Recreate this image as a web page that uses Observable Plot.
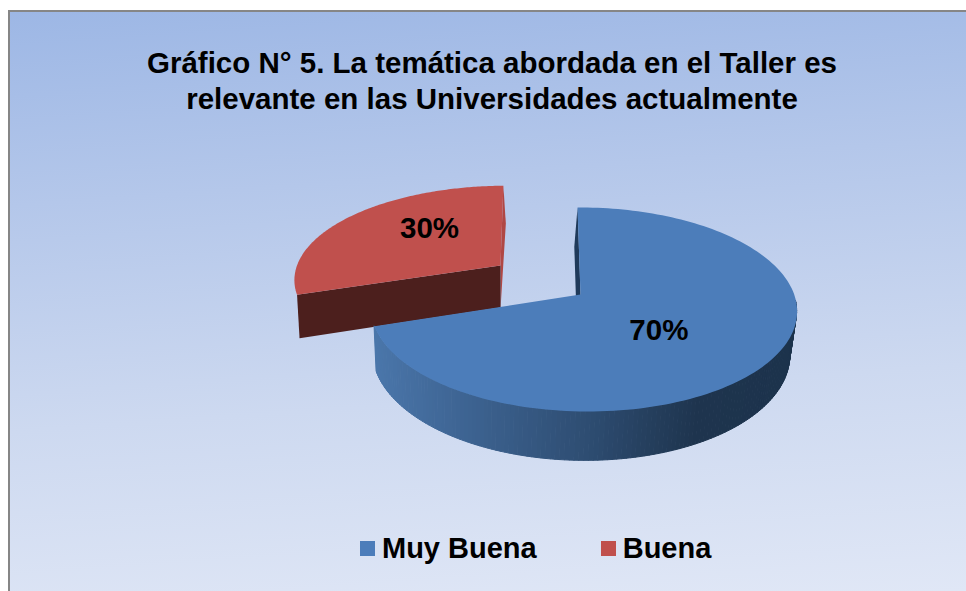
<!DOCTYPE html>
<html lang="es">
<head>
<meta charset="utf-8">
<script src="https://cdn.jsdelivr.net/npm/d3@7"></script>
<script src="https://cdn.jsdelivr.net/npm/@observablehq/plot@0.6"></script>
<style>
html,body{margin:0;padding:0;background:#fff;width:966px;height:591px;overflow:hidden}
#frame{position:absolute;left:8px;top:10px;width:958px;height:581px;box-sizing:border-box;border-left:2px solid #868686;border-top:2px solid #868686;
background:linear-gradient(176deg,#9db7e5 0%,#b4c7ea 30%,#cdd9f0 65%,#e0e7f6 100%);font-family:"Liberation Sans",Arial,sans-serif;color:#000}
#title{height:113px;box-sizing:border-box;padding-top:33px;padding-left:8px;text-align:center;font-weight:bold;font-size:29.5px;line-height:36px}
#chart svg{display:block;background:transparent}
#legend{position:absolute;left:350px;top:518px;display:flex;align-items:center;font-weight:bold;font-size:29px;line-height:36px}
#legend i{display:inline-block;width:15px;height:15px;margin-right:7px}
#legend span{display:flex;align-items:center;margin-right:64px}
</style>
</head>
<body>
<div id="frame">
<div id="title">Gráfico N° 5. La temática abordada en el Taller es<br>relevante en las Universidades actualmente</div>
<div id="chart"></div>
<div id="legend"></div>
</div>
<script>
const categories = ["Muy Buena", "Buena"];
const shares = [70, 30];
const labels = ["70%", "30%"];
const topColors = ["#4c7dba", "#c0504d"];

// pie angles come from the values; clockwise from twelve o'clock
const arcs = d3.pie().sort(null)(shares);

// perspective view of the tilted disc
const view = {cx: 580, cy: 294, B: 210.7, C: -3.4, A: 99.8, k: 0.147, m: -0.014};
function project(u, v, base, shiftX) {
  const den = 1 + view.k * v + view.m * u;
  const s = base ? 0.979 : 1, a = base ? 1.05 : 1;
  const cx = view.cx + (base ? shiftX : 0), cy = base ? 337.5 : view.cy;
  return {x: cx + s * (view.B * u + view.C * v) / den, y: cy - a * view.A * v / den};
}
function rimPoint(arc, t, e, base, shiftX) {
  const mid = (arc.startAngle + arc.endAngle) / 2;
  return project(e * Math.sin(mid) + Math.sin(t), e * Math.cos(mid) + Math.cos(t), base, shiftX);
}
function apex(arc, e, base, shiftX) {
  const mid = (arc.startAngle + arc.endAngle) / 2;
  return project(e * Math.sin(mid), e * Math.cos(mid), base, shiftX);
}
const steps = (a, b, n) => d3.range(n + 1).map(i => a + (b - a) * i / n);

const blue = arcs[0], red = arcs[1];
const eRed = 0.52, shiftBlue = -2.3, shiftRed = -1.7;

// the pulled-out slice is seen slightly wider and leaning compared with the disc
const redAp = apex(red, eRed);
const redApexBase = apex(red, eRed, true, shiftRed);
const widenAt = (ref, w, lean) => p => ({x: 500 + (p.x - redAp.x) * w + (p.y - ref) * lean, y: p.y});
const widen = widenAt(redAp.y, 1.035, 0.063), widenBase = widenAt(redApexBase.y, 1.04, 0.03);

const topFace = (arc, e) => [apex(arc, e), ...steps(arc.startAngle, arc.endAngle, 160).map(t => rimPoint(arc, t, e))];
const blueTop = topFace(blue, 0), redTop = topFace(red, eRed).map(widen);

// cut faces
const cutFace = (a, b) => [widen(a[0]), widen(a[1]), widenBase(b[1]), widenBase(b[0])];
const redCutLeft = cutFace([redAp, rimPoint(red, red.startAngle, eRed)], [redApexBase, rimPoint(red, red.startAngle, eRed, true, shiftRed)]);
const redCutRight = cutFace([redAp, rimPoint(red, red.endAngle, eRed)], [redApexBase, rimPoint(red, red.endAngle, eRed, true, shiftRed)]);
const blueCut = [apex(blue, 0), rimPoint(blue, blue.startAngle, 0), rimPoint(blue, blue.startAngle, 0, true, shiftBlue - 1), apex(blue, 0, true, shiftBlue - 1)];

// outer wall of the large slice, shaded from left to right
const shade = d3.scaleLinear().domain([375, 470, 590, 700, 797]).range(["#4a76aa", "#3d6391", "#2e4d72", "#1e344e", "#1c334c"]);
const wallAngles = steps(Math.PI * 0.52, blue.endAngle, 140);
const wall = [];
wallAngles.slice(0, -1).forEach((t, i) => {
  const next = wallAngles[i + 1];
  const fill = shade(rimPoint(blue, t, 0).x);
  [t, next].forEach(a => {
    const p = rimPoint(blue, a, 0), q = rimPoint(blue, a, 0, true, shiftBlue);
    wall.push({x1: p.x, y1: p.y, x2: q.x, y2: q.y, seg: i, fill});
  });
});

const blueLabel = rimPoint(blue, (blue.startAngle + blue.endAngle) / 2, 0);
const blueAnchor = apex(blue, 0);
const redAnchor = widen(redAp), redRim = widen(rimPoint(red, (red.startAngle + red.endAngle) / 2, eRed));
const labelData = [
  {x: blueAnchor.x + (blueLabel.x - blueAnchor.x) * 0.41, y: blueAnchor.y + (blueLabel.y - blueAnchor.y) * 0.41 + 9, text: labels[0]},
  {x: redAnchor.x + (redRim.x - redAnchor.x) * 0.47, y: redAnchor.y + (redRim.y - redAnchor.y) * 0.47 - 14, text: labels[1]}
];

const poly = (data, fill) => Plot.line(data, {x: "x", y: "y", fill, stroke: "none", curve: "linear-closed"});

const plot = Plot.plot({
  width: 956, height: 395, margin: 0,
  x: {domain: [10, 966], range: [0, 956], axis: null},
  y: {domain: [125, 520], range: [0, 395], axis: null},
  style: {background: "transparent", overflow: "visible"},
  marks: [
    poly(redCutRight, "#b04744"),
    poly(redCutLeft, "#4c1f1d"),
    poly(redTop, topColors[1]),
    poly(blueCut, "#1f3a5a"),
    Plot.area(wall, {x1: "x1", y1: "y1", x2: "x2", y2: "y2", z: "seg", fill: d => d.fill, stroke: d => d.fill, strokeWidth: 1}),
    poly(blueTop, topColors[0]),
    Plot.text(labelData, {x: "x", y: "y", text: "text", fontSize: 29.5, fontWeight: "bold", fill: "#000", fontFamily: "Liberation Sans, Arial, sans-serif"})
  ]
});
document.getElementById("chart").append(plot);

const legend = document.getElementById("legend");
categories.forEach((c, i) => {
  const s = document.createElement("span");
  const box = document.createElement("i");
  box.style.background = topColors[i];
  s.append(box, c);
  legend.append(s);
});
</script>
</body>
</html>
